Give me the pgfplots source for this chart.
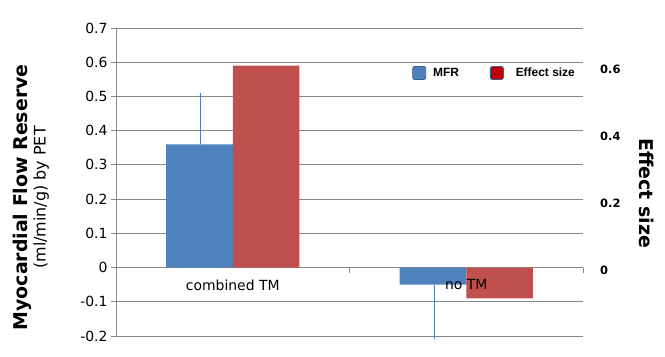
\documentclass[border=0pt]{standalone}
\usepackage{pgfplots}
\pgfplotsset{compat=1.18}
\usepackage{fontspec}
\setmainfont{DejaVu Sans}
\newfontfamily\legfont{Liberation Sans}
\definecolor{mfr}{HTML}{4F81BD}
\definecolor{eff}{HTML}{C0504D}
\definecolor{gridc}{HTML}{878787}
\definecolor{errc}{HTML}{4A7EBB}
\definecolor{legborder}{HTML}{385D8A}
\definecolor{legred}{HTML}{C00000}
\begin{document}
\begin{tikzpicture}
\useasboundingbox (0,0) rectangle (665bp,357bp);
\begin{axis}[
  at={(116bp,21bp)}, anchor=south west,
  scale only axis, width=467bp, height=308bp,
  xmin=-0.5, xmax=1.5, ymin=-0.2, ymax=0.7,
  clip=false,
  axis x line*=middle, axis y line*=left,
  axis line style={gridc, line width=0.8bp},
  xtick={-0.5,0.5,1.5}, xticklabels={},
  xtick align=outside,
  ytick={-0.2,-0.1,0,0.1,0.2,0.3,0.4,0.5,0.6,0.7},
  ytick align=outside,
  major tick length=5bp,
  tick style={gridc, line width=0.8bp},
  ymajorgrids, grid style={gridc, line width=0.8bp},
  yticklabel style={font=\fontsize{14}{16}\selectfont, /pgf/number format/assume math mode=true},
  /pgf/number format/.cd, fixed, precision=1, /pgfplots/.cd,
  ylabel={{\fontsize{19}{22}\selectfont\bfseries Myocardial Flow Reserve}\\[1pt]{\fontsize{16}{19}\selectfont (ml/min/g) by PET}},
  ylabel style={at={(axis description cs:-0.182,0.45)}, anchor=center, align=center},
  legend style={draw=none, fill=none, at={(axis description cs:0.634,0.854)}, anchor=west,
    legend columns=2, font=\legfont\bfseries\fontsize{12}{14}\selectfont, inner sep=0pt,
    /tikz/every odd column/.append style={column sep=5bp},
    /tikz/every even column/.append style={column sep=29bp}},
]
\addplot[ybar, bar width=0.285, bar shift=-0.1425, fill=mfr, draw=none,
  error bars/.cd, y dir=both, y explicit, error bar style={errc, line width=0.8bp, xshift=-32bp}, error mark=none,
  /pgfplots/.cd,
  legend image code/.code={\draw[fill=mfr, draw=legborder, line width=0.8bp, rounded corners=2bp] (0bp,-6.5bp) rectangle (13bp,6.5bp);}]
  coordinates {(0,0.36) += (0,0.15) (1,-0.05) -= (0,0.16)};
\addlegendentry{MFR}
\addplot[ybar, bar width=0.285, bar shift=0.1425, fill=eff, draw=none,
  legend image code/.code={\draw[fill=legred, draw=legborder, line width=0.8bp, rounded corners=2bp] (0bp,-6.5bp) rectangle (13bp,6.5bp);}]
  coordinates {(0,0.59) (1,-0.09)};
\addlegendentry{\hspace{5bp}Effect size}
\node[anchor=north, inner sep=0pt, font=\fontsize{14}{16}\selectfont] at (axis cs:0,0) [yshift=-12bp] {combined TM};
\node[anchor=north, inner sep=0pt, font=\fontsize{14}{16}\selectfont] at (axis cs:1,0) [yshift=-12bp] {no TM};
\end{axis}
\begin{axis}[
  at={(116bp,21bp)}, anchor=south west,
  scale only axis, width=467bp, height=308bp,
  xmin=-0.5, xmax=1.5, ymin=-0.196, ymax=0.724,
  hide x axis, axis y line*=right, axis line style={draw=none},
  ytick={-0.2,0,0.2,0.4,0.6}, major tick length=0pt,
  yticklabel style={font=\bfseries\fontsize{11.5}{13}\selectfont, anchor=west, inner sep=0pt, xshift=17bp, /pgf/number format/assume math mode=true},
  /pgf/number format/.cd, fixed, precision=1, /pgfplots/.cd,
  ylabel={Effect size},
  ylabel style={at={(axis description cs:1.137,0.464)}, anchor=center, rotate=180, font=\bfseries\fontsize{19}{22}\selectfont},
]
\end{axis}
\end{tikzpicture}
\end{document}
